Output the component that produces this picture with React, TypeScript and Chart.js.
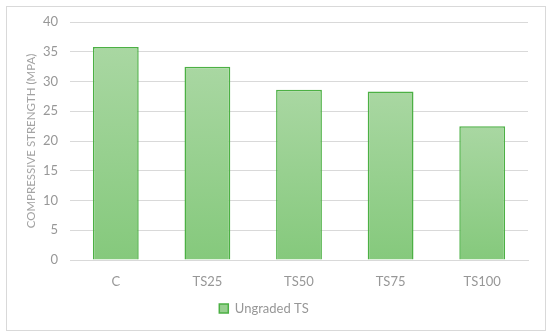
import React, { useEffect, useRef } from "react";
import { Chart, registerables } from "chart.js";

Chart.register(...registerables);

const categories = ["C", "TS25", "TS50", "TS75", "TS100"];
const seriesName = "Ungraded TS";
const values = [35.8, 32.5, 28.6, 28.3, 22.5];
const yTicksMax = 40;
const yStep = 5;

export default function App() {
  const ref = useRef<HTMLCanvasElement>(null);
  useEffect(() => {
    const canvas = ref.current!;
    const font = "Lato, 'Open Sans', sans-serif";
    const textColor = "#979797";
    const chart = new Chart(canvas, {
      type: "bar",
      data: {
        labels: categories,
        datasets: [
          {
            label: seriesName,
            data: values,
            backgroundColor: (ctx: any) => {
              const c = ctx.chart;
              const y = c.scales?.y;
              if (!y || ctx.raw == null || ctx.type !== "data") return "#97cf8f";
              const top = y.getPixelForValue(ctx.raw);
              const bottom = y.getPixelForValue(0);
              if (!isFinite(top) || !isFinite(bottom) || top === bottom) return "#97cf8f";
              const g = c.ctx.createLinearGradient(0, top, 0, bottom);
              g.addColorStop(0, "#a9d7a2");
              g.addColorStop(1, "#85c97c");
              return g;
            },
            borderColor: "#4cb044",
            borderWidth: 1.5,
            barPercentage: 0.5,
            categoryPercentage: 1,
          },
        ],
      },
      options: {
        responsive: false,
        animation: false,
        devicePixelRatio: 1,
        layout: { padding: { top: 22, right: 22, left: 0, bottom: 11 } },
        plugins: {
          legend: {
            position: "bottom",
            labels: {
              color: textColor,
              font: { family: font, size: 13 },
              boxWidth: 9,
              boxHeight: 9,
              padding: 10,
              generateLabels: (c: any) =>
                c.data.datasets.map((d: any, i: number) => ({
                  text: d.label,
                  fillStyle: "#97cf8f",
                  strokeStyle: "#4cb044",
                  lineWidth: 1.5,
                  fontColor: textColor,
                  datasetIndex: i,
                  hidden: false,
                })),
            },
          },
          tooltip: { enabled: false },
        },
        scales: {
          x: {
            grid: { display: false, drawTicks: false },
            border: { display: true, color: "#d9d9d9" },
            ticks: { color: textColor, font: { family: font, size: 13 }, padding: 14 },
            afterFit: (s: any) => {
              s.height = 32;
            },
          },
          y: {
            min: 0,
            max: yTicksMax,
            ticks: {
              stepSize: yStep,
              color: textColor,
              font: { family: font, size: 13 },
              padding: 12,
            },
            grid: { color: "#d9d9d9", drawTicks: false },
            border: { display: false },
            title: {
              display: true,
              text: "COMPRESSIVE STRENGTH (MPA)",
              color: "#a3a3a3",
              font: { family: font, size: 11.5 },
              padding: { top: 24, bottom: 0 },
            },
            afterFit: (s: any) => {
              s.width = 70;
            },
          },
        },
      },
    });
    return () => chart.destroy();
  }, []);
  return (
    <div style={{ position: "absolute", left: 0, top: 0, width: 550, height: 336 }}>
      <div
        style={{
          position: "absolute",
          left: 6,
          top: 6,
          width: 538,
          height: 323,
          border: "1px solid #d9d9d9",
        }}
      />
      <canvas ref={ref} width={550} height={336} style={{ position: "absolute", left: 0, top: 0 }} />
    </div>
  );
}
